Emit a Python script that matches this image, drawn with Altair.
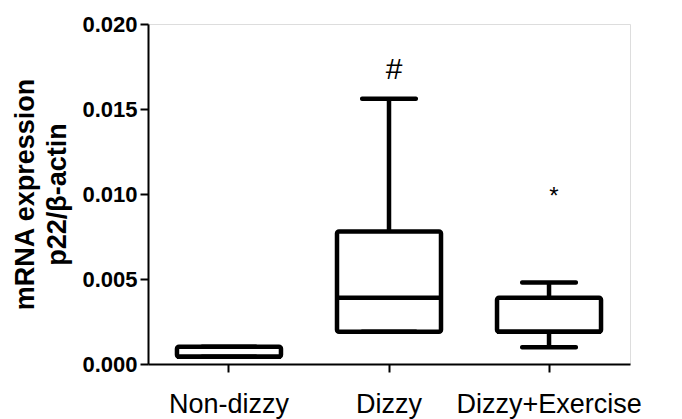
import altair as alt
import pandas as pd

groups = ["Non-dizzy", "Dizzy", "Dizzy+Exercise"]
mins = [0.00043, 0.0019, 0.00098]
q1 = [0.00043, 0.0019, 0.0019]
medians = [0.00043, 0.0039, 0.0019]
q3 = [0.00102, 0.0078, 0.0039]
maxs = [0.00102, 0.0156, 0.0048]

ann_groups = ["Dizzy", "Dizzy+Exercise"]
ann_text = ["#", "*"]
ann_y = [0.0173, 0.0098]
ann_size = [30, 24]

df = pd.DataFrame({"group": groups, "min": mins, "q1": q1, "med": medians, "q3": q3, "max": maxs})
ann = pd.DataFrame({"group": ann_groups, "label": ann_text, "y": ann_y, "fs": ann_size})

FONT = "Liberation Sans"

x = alt.X("group:N", sort=groups, title=None,
          scale=alt.Scale(paddingInner=0, paddingOuter=0.006),
          axis=alt.Axis(labelAngle=0, labelFontSize=27, labelFont=FONT, labelColor="black",
                        labelPadding=19, labelLimit=400, labelOverlap=False,
                        tickSize=8, tickWidth=2, tickColor="black",
                        domainColor="black", domainWidth=2))
yscale = alt.Scale(domain=[0, 0.02], nice=False)
yaxis = alt.Axis(values=[0, 0.005, 0.01, 0.015, 0.02], format=".3f", grid=False,
                 labelFontSize=22, labelFont=FONT, labelFontWeight="bold", labelColor="black",
                 labelPadding=3, tickSize=8, tickWidth=2, tickColor="black",
                 domainColor="black", domainWidth=2,
                 title=["mRNA expression", "p22/\u03b2-actin"], titleFont=FONT,
                 titleFontSize=27, titleFontWeight="bold", titleColor="black",
                 titleLineHeight=32, titlePadding=10)

base = alt.Chart(df)

whisk = base.mark_rule(color="black", strokeWidth=4.5, opacity=1).encode(
    x=x, y=alt.Y("min:Q", scale=yscale, axis=yaxis), y2="max:Q")
box = base.mark_bar(size=104, fill="white", stroke="black", strokeWidth=4.5, cornerRadius=2, opacity=1).encode(
    x=x, y=alt.Y("q1:Q", scale=yscale), y2="q3:Q")
med = base.mark_tick(size=104, thickness=4.5, color="black", opacity=1).encode(
    x=x, y=alt.Y("med:Q", scale=yscale))
capl = base.mark_tick(size=58, thickness=4.5, color="black", cornerRadius=2, opacity=1).encode(
    x=x, y=alt.Y("min:Q", scale=yscale))
caph = base.mark_tick(size=58, thickness=4.5, color="black", cornerRadius=2, opacity=1).encode(
    x=x, y=alt.Y("max:Q", scale=yscale))
txt = alt.Chart(ann).mark_text(font=FONT, color="black", dx=5, baseline="middle").encode(
    x=alt.X("group:N", sort=groups), y=alt.Y("y:Q", scale=yscale), text="label:N",
    size=alt.Size("fs:Q", scale=None, legend=None))

chart = alt.layer(whisk, box, med, capl, caph, txt).properties(
    width=482, height=340,
    autosize=alt.AutoSizeParams(type="none"),
    padding={"left": 140, "top": 16, "right": 44, "bottom": 55},
).configure_view(stroke=None).configure(background="white")

chart.save("out.html", embed_options={"renderer": "svg", "actions": False})
